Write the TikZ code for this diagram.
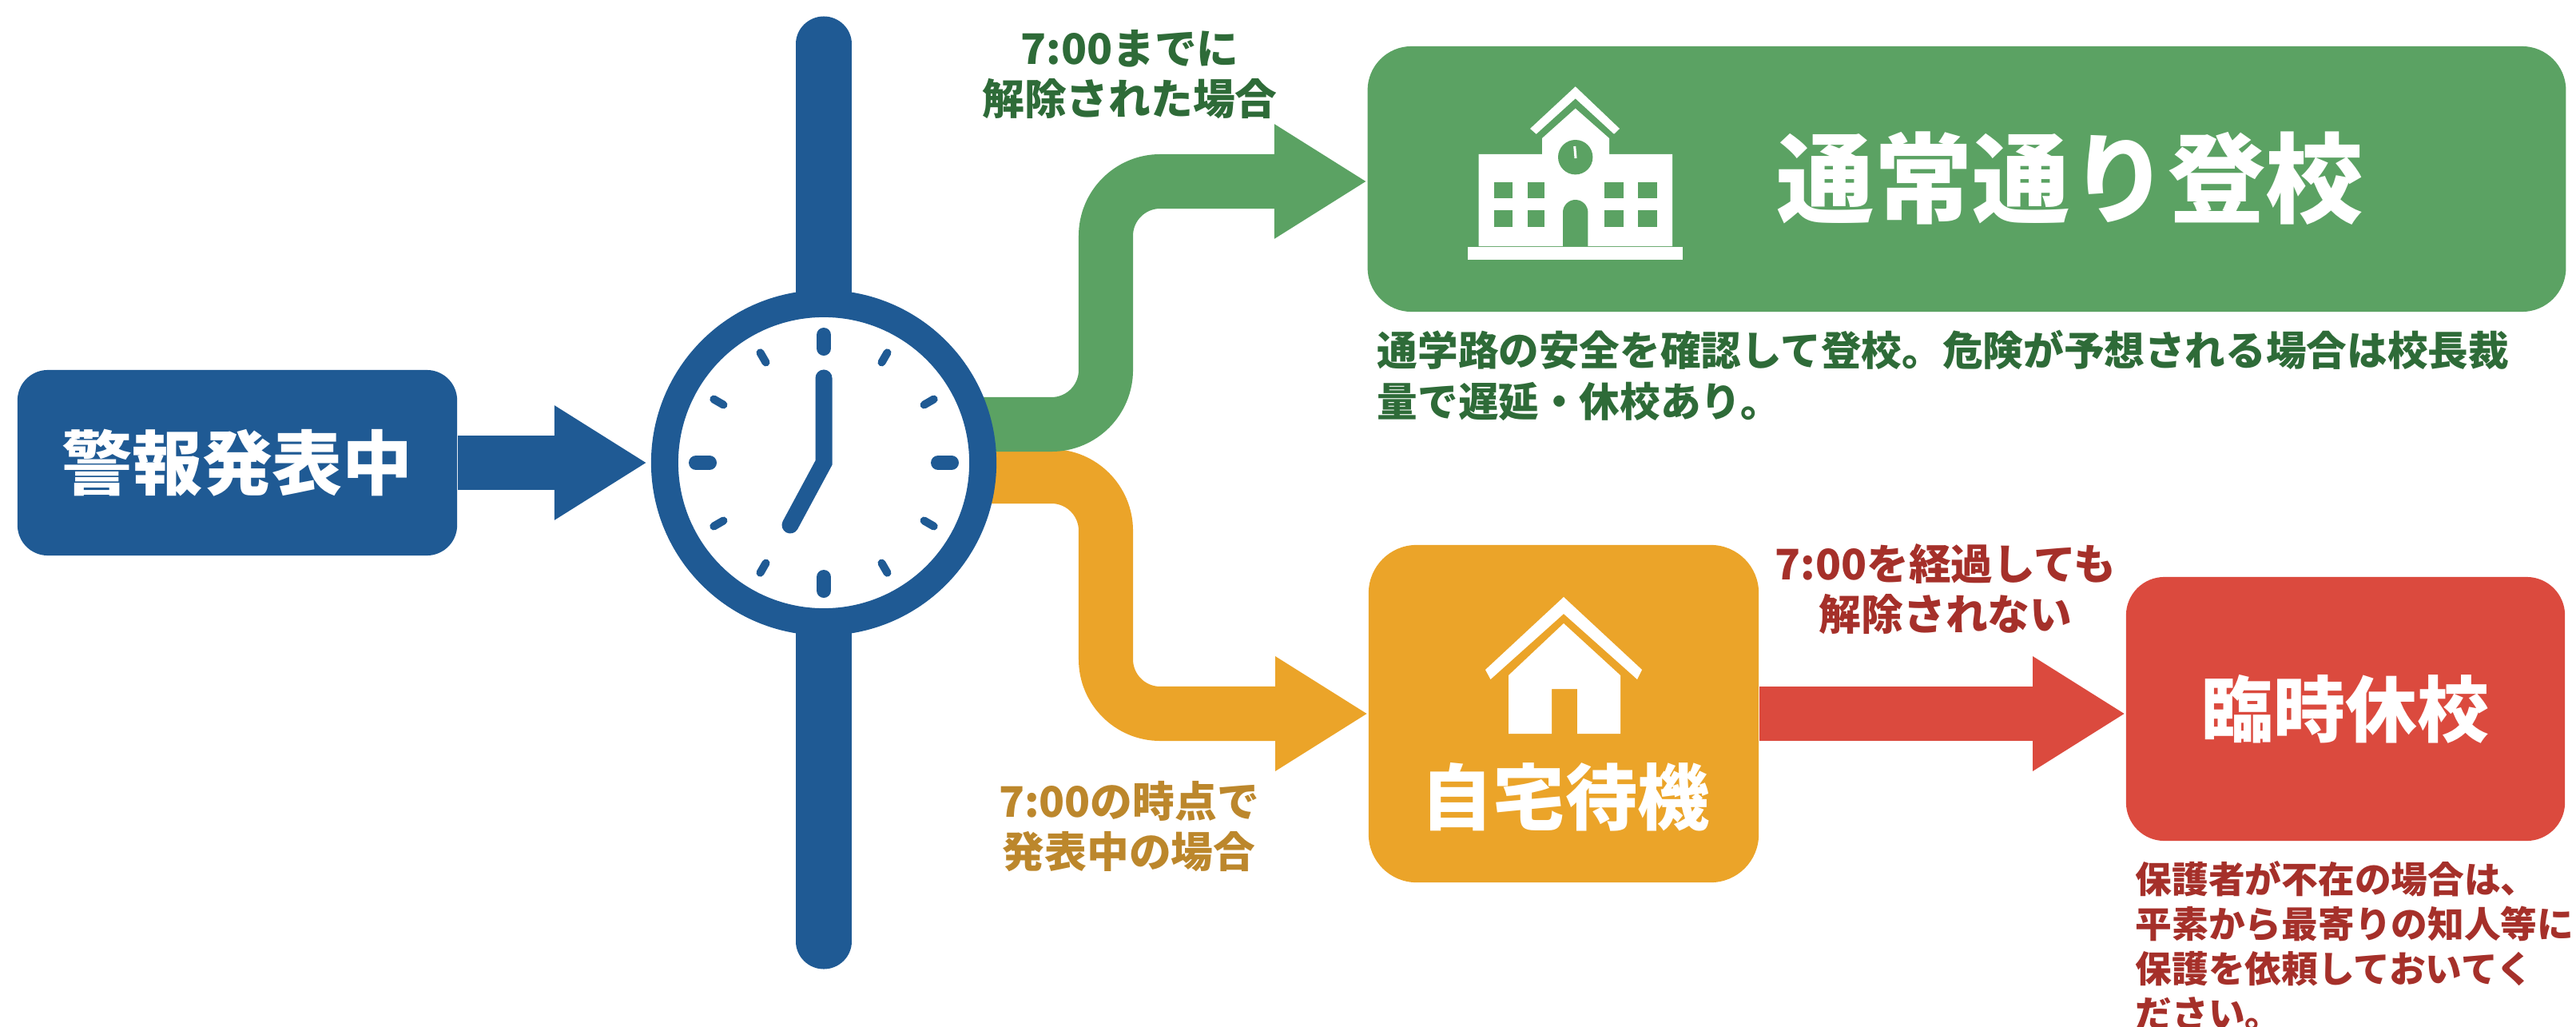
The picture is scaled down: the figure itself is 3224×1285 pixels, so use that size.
\documentclass[tikz,border=0pt]{standalone}
\usepackage{fontspec}
\setmainfont{Noto Sans CJK JP}
\usetikzlibrary{arrows.meta}

\definecolor{warnblue}{HTML}{1F5A94}
\definecolor{safegreen}{HTML}{5BA263}
\definecolor{waitorange}{HTML}{EBA429}
\definecolor{closedred}{HTML}{DB4A3E}
\definecolor{safetext}{HTML}{2E6B38}
\definecolor{waittext}{HTML}{BC872C}
\definecolor{closedtext}{HTML}{A5302A}

\tikzset{
	box/.style = {inner sep = 0pt, text = white},
	flow/.style = {line width = 0.68cm, rounded corners = 0.68cm, -{Triangle[length = 1.16cm, width = 1.35cm]}},
	bigtext/.style = {inner sep = 0pt, text = white, font = \bfseries\fontsize{25.6}{30}\selectfont},
	label/.style = {inner sep = 0pt, align = center, font = \bfseries\fontsize{15}{18}\selectfont},
	note/.style = {inner sep = 0pt, align = left, anchor = west}
}

\begin{document}
\begin{tikzpicture}[x = 0.01cm, y = -0.01cm]
	\useasboundingbox (0,0) rectangle (3224,1285);

	\node[box, rounded corners = 0.38cm, fill = warnblue, minimum width = 5.5cm, minimum height = 2.32cm, font = \bfseries\fontsize{25}{30}\selectfont] (warn) at (297,579) {警報発表中};
	\node[box, rounded corners = 0.55cm, fill = safegreen, minimum width = 14.99cm, minimum height = 3.32cm] (school) at (2461.5,224) {};
	\node[box, rounded corners = 0.6cm, fill = waitorange, minimum width = 4.88cm, minimum height = 4.22cm] (home) at (1957,893) {};
	\node[box, rounded corners = 0.48cm, fill = closedred, minimum width = 5.49cm, minimum height = 3.3cm, font = \bfseries\fontsize{25.6}{30}\selectfont] (closed) at (2935.5,887) {臨時休校};

	\coordinate (bartop) at (1031,55);
	\coordinate (barbottom) at (1031,1178);
	\draw[warnblue, line width = 0.69cm, line cap = round] (bartop) -- (barbottom);

	\coordinate (waitstart) at (1200,596);
	\coordinate (waitbend) at (1384,893);
	\draw[flow, waitorange] (waitstart) -- (waitstart -| waitbend) -- (waitbend) -- (waitbend -| home.west);

	\coordinate (safestart) at (1200,531);
	\coordinate (safebend) at (1384,227);
	\draw[flow, safegreen] (safestart) -- (safestart -| safebend) -- (safebend) -- (safebend -| school.west);

	\node[circle, draw = warnblue, fill = white, line width = 0.34cm, minimum size = 3.98cm, inner sep = 0pt] (clock) at (1031,579) {};

	\draw[flow, warnblue, shorten > = 0.05cm] (warn.east) -- (clock.west);
	\draw[flow, closedred] (home.east) -- (home.east -| closed.west);

	\begin{scope}[shift = {(1031,579)}, warnblue, line cap = round]
		\foreach \a in {0,90,180,270}
			\draw[line width = 0.18cm] (\a:143) -- (\a:160);
		\foreach \a in {30,60,120,150,210,240,300,330}
			\draw[line width = 0.1cm] (\a:145) -- (\a:159);
		\draw[line width = 0.21cm, line join = miter] (0,-106) -- (0,0) -- (-42,78);
	\end{scope}

	% school icon
	\begin{scope}[white]
		\fill (1915,161) -- (1971.7,108.3) -- (2027,161) -- (2020,167.7) -- (1971.7,123.3) -- (1922.7,167.7) -- cycle;
		\fill (1971.7,135.7) -- (2014,173) -- (2014,193) -- (2093,193) -- (2093,308) -- (1850.7,308) -- (1850.7,193) -- (1930,193) -- (1930,173) -- cycle;
		\fill (1837,309) rectangle (2106,325);
		\fill[safegreen] (1971.7,196.7) circle [radius = 21.7];
		\draw[line width = 0.03cm] (1970.7,183) -- (1972,198);
		\foreach \x/\w in {1870/23.3,1911.7/21.6,2008.3/24,2050/24}
		{
			\fill[safegreen] (\x,228.3) rectangle ++(\w,19.4);
			\fill[safegreen] (\x,263.3) rectangle ++(\w,20.7);
		}
		\fill[safegreen] (1956,308.3) -- (1956,265.7) arc [start angle = 180, end angle = 0, radius = 15.7, y radius = -15.7] -- (1987.3,308.3) -- cycle;
	\end{scope}

	% house icon
	\begin{scope}[white]
		\fill (1859,838) -- (1957,747) -- (2055,838) -- (2049,850) -- (1957,768) -- (1865.5,850) -- cycle;
		\fill (1957,780) -- (2028,845) -- (2028,918) -- (1974,918) -- (1974,862) -- (1942,862) -- (1942,918) -- (1888,918) -- (1888,845) -- cycle;
	\end{scope}

	\node[bigtext, font = \bfseries\fontsize{34.8}{40}\selectfont] (schooltext) at (2591,223) {通常通り登校};
	\node[bigtext] (hometext) at (1959,997) {自宅待機};

	\node[label, text = safetext] (safelabel) at (1414,93) {7:00までに\\解除された場合};
	\node[label, text = waittext] (waitlabel) at (1413,1034) {7:00の時点で\\発表中の場合};
	\node[label, text = closedtext] (closedlabel) at (2435,737) {7:00を経過しても\\解除されない};

	\node[note, text = safetext, font = \bfseries\fontsize{14.4}{18}\selectfont] (safenote) at (1723,470) {通学路の安全を確認して登校。危険が予想される場合は校長裁\\量で遅延・休校あり。};
	\node[note, text = closedtext, font = \bfseries\fontsize{13}{15.9}\selectfont] (closednote) at (2672,1183) {保護者が不在の場合は、\\平素から最寄りの知人等に\\保護を依頼しておいてく\\ださい。};
\end{tikzpicture}
\end{document}
